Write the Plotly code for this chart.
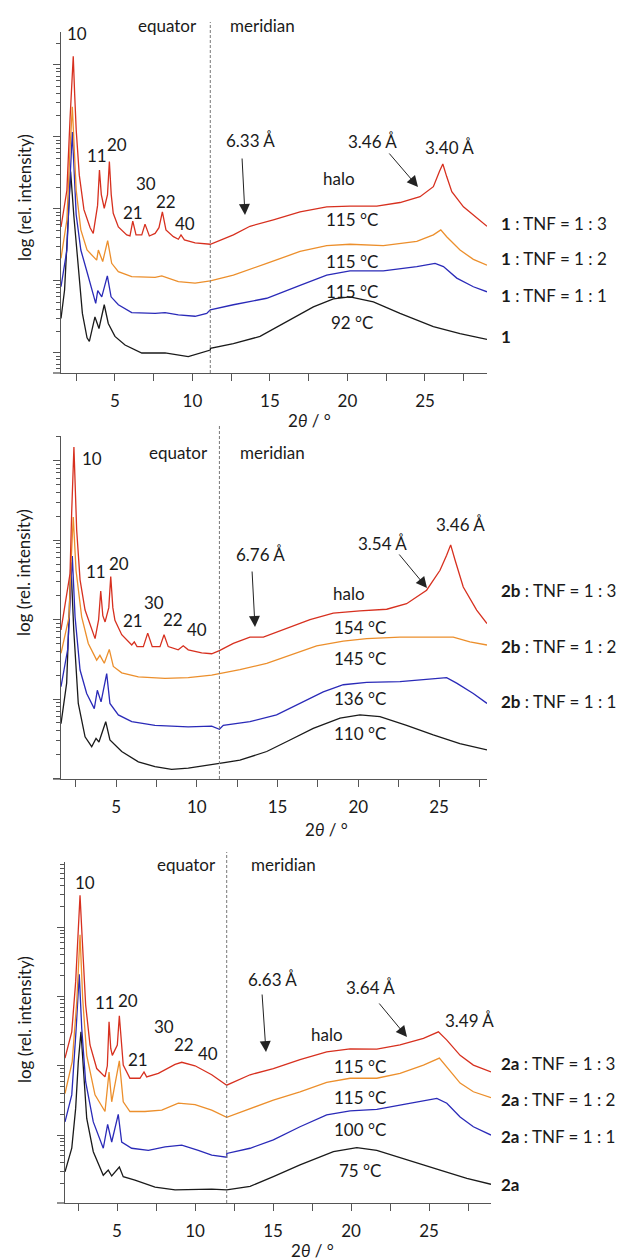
import numpy as np
import plotly.graph_objects as go

W, H = 632, 1260
FONT = "Lato, Carlito, Calibri, sans-serif"
TXT = "#1a1a1a"
COLORS = {"red": "#d7301f", "orange": "#ec8f2c", "blue": "#2a2ab8", "black": "#1a1a1a"}

# ---------------- Panel 1 (compound 1) : 2theta and log10(intensity) ----------------
p1_red_x = [1.52, 1.9, 2.1, 2.2, 2.31, 2.4, 2.5, 2.7, 3.0, 3.4, 3.6, 3.88, 4.0, 4.12, 4.31, 4.52, 4.64, 4.76,
            4.89, 5.22, 5.76, 5.97, 6.15, 6.36, 6.73, 6.94, 7.22, 7.59, 7.84, 8.06, 8.29, 8.77, 9.09, 9.26,
            9.48, 10.17, 11.15, 12.64, 13.71, 15.22, 16.94, 18.66, 20.16, 21.89, 23.39, 24.68, 25.54, 25.93,
            26.15, 26.40, 26.73, 27.48, 28.34, 29.0]
p1_red_y = [2.75, 3.26, 4.24, 4.70, 5.12, 4.60, 4.10, 3.47, 2.99, 2.74, 2.66, 3.05, 3.54, 3.20, 3.01, 3.20, 3.66, 3.20,
            2.94, 2.75, 2.64, 2.625, 2.83, 2.64, 2.64, 2.79, 2.625, 2.66, 2.74, 2.96, 2.71, 2.615, 2.58, 2.64,
            2.57, 2.53, 2.51, 2.64, 2.76, 2.85, 2.96, 3.03, 3.04, 3.04, 3.09, 3.17, 3.31, 3.52,
            3.625, 3.45, 3.24, 3.03, 2.87, 2.76]
p1_orange_x = [1.52, 1.9, 2.1, 2.25, 2.5, 2.8, 3.2, 3.82, 3.93, 4.21, 4.53, 4.79, 5.22, 6.08, 7.59, 8.02, 9.09,
               10.17, 11.15, 12.64, 14.79, 16.94, 18.66, 20.16, 22.31, 24.47, 25.54, 26.02, 26.40, 27.26, 28.12, 29.0]
p1_orange_y = [2.315, 2.85, 3.82, 4.42, 3.26, 2.71, 2.43, 2.29, 2.43, 2.27, 2.56, 2.245, 2.13, 2.06, 2.05, 2.07, 1.99,
               1.97, 2.00, 2.08, 2.245, 2.41, 2.49, 2.51, 2.49, 2.55, 2.64, 2.71, 2.615, 2.43, 2.30, 2.22]
p1_blue_x = [1.52, 1.9, 2.1, 2.25, 2.5, 2.8, 3.2, 3.76, 3.89, 4.15, 4.51, 4.75, 5.22, 6.08, 7.59, 8.23, 9.09, 10.17,
             10.92, 11.15, 12.64, 14.79, 16.94, 18.66, 20.16, 22.31, 24.47, 25.65, 26.19, 27.05, 28.12, 29.0]
p1_blue_y = [1.92, 2.43, 3.40, 4.07, 2.92, 2.43, 2.125, 1.69, 1.865, 1.78, 2.07, 1.78, 1.67, 1.56, 1.55, 1.56, 1.53, 1.51,
             1.55, 1.60, 1.67, 1.76, 1.94, 2.08, 2.14, 2.14, 2.20, 2.245, 2.20, 2.04, 1.92, 1.85]
p1_black_x = [1.52, 1.75, 1.95, 2.14, 2.35, 2.57, 2.9, 3.2, 3.35, 3.71, 3.97, 4.31, 4.57, 5.0, 5.65, 6.73, 8.23, 9.73,
              10.6, 11.15, 11.16, 12.64, 14.36, 16.08, 17.8, 19.09, 20.16, 21.67, 23.39, 25.54, 27.26, 29.0]
p1_black_y = [1.48, 1.875, 2.71, 3.52, 2.90, 2.39, 1.55, 1.21, 1.16, 1.50, 1.34, 1.67, 1.41, 1.23, 1.11, 1.00, 1.00, 0.95,
              1.00, 1.04, 1.065, 1.13, 1.23, 1.435, 1.64, 1.75, 1.78, 1.71, 1.55, 1.365, 1.27, 1.19]

# ---------------- Panel 2 (compound 2b) ----------------
p2_red_x = [1.59, 2.15, 2.25, 2.39, 2.56, 2.77, 3.08, 3.70, 3.92, 4.05, 4.18, 4.32, 4.55, 4.67, 4.80, 4.93, 5.35, 5.97,
            6.13, 6.30, 6.69, 6.96, 7.24, 7.72, 7.97, 8.23, 8.85, 9.16, 9.47, 10.30, 10.92, 11.4, 12.26, 13.29,
            14.12, 15.57, 17.01, 18.45, 20.1, 21.76, 22.99, 24.23, 25.06, 25.47, 25.72, 25.99, 26.50, 27.33, 27.97]
p2_red_y = [1.87, 2.58, 3.34, 4.17, 3.13, 2.50, 2.12, 1.76, 2.00, 2.36, 2.05, 1.97, 2.15, 2.54, 2.15, 1.99, 1.81, 1.68,
            1.72, 1.66, 1.66, 1.83, 1.66, 1.66, 1.81, 1.66, 1.62, 1.67, 1.62, 1.58, 1.57, 1.61, 1.70, 1.78,
            1.78, 1.89, 2.00, 2.08, 2.11, 2.13, 2.20, 2.37, 2.62, 2.81, 2.94, 2.75, 2.41, 2.12, 1.95]
p2_orange_x = [1.59, 2.09, 2.21, 2.35, 2.52, 2.87, 3.28, 3.80, 4.0, 4.27, 4.58, 4.83, 5.35, 6.38, 8.03, 9.47, 10.92,
               11.4, 12.67, 14.33, 15.77, 17.42, 19.07, 20.52, 22.58, 24.64, 25.88, 26.91, 27.97]
p2_orange_y = [1.575, 2.035, 2.71, 3.29, 2.62, 2.035, 1.70, 1.49, 1.55, 1.45, 1.625, 1.41, 1.33, 1.28, 1.26, 1.27, 1.30,
               1.32, 1.37, 1.45, 1.55, 1.67, 1.73, 1.76, 1.78, 1.78, 1.78, 1.72, 1.68]
p2_blue_x = [1.59, 2.0, 2.15, 2.29, 2.46, 2.77, 3.18, 3.65, 3.84, 4.07, 4.42, 4.62, 5.14, 5.97, 7.41, 9.47, 10.92,
             11.4, 11.64, 13.29, 14.94, 16.39, 17.83, 19.07, 20.52, 22.58, 24.44, 25.47, 26.09, 27.12, 27.97]
p2_blue_y = [1.155, 1.62, 2.20, 2.80, 2.035, 1.365, 1.07, 0.88, 1.11, 0.965, 1.32, 0.945, 0.80, 0.715, 0.67, 0.65, 0.66,
             0.62, 0.67, 0.715, 0.80, 0.945, 1.09, 1.18, 1.21, 1.22, 1.25, 1.27, 1.20, 1.07, 0.945]
p2_black_x = [1.59, 1.94, 2.09, 2.2, 2.38, 2.66, 3.08, 3.49, 3.76, 3.94, 4.36, 4.62, 5.35, 6.38, 7.41, 8.44, 9.47,
              10.92, 11.4, 12.67, 14.33, 15.77, 17.21, 18.87, 20.1, 21.34, 22.99, 24.64, 26.29, 27.97]
p2_black_y = [0.69, 1.20, 2.035, 2.72, 1.87, 0.945, 0.525, 0.40, 0.505, 0.46, 0.715, 0.485, 0.34, 0.21, 0.15, 0.115, 0.13,
              0.18, 0.19, 0.23, 0.34, 0.485, 0.63, 0.76, 0.80, 0.78, 0.67, 0.55, 0.44, 0.36]

# ---------------- Panel 3 (compound 2a) ----------------
p3_red_x = [1.667, 2.10, 2.35, 2.52, 2.63, 2.78, 2.99, 3.27, 3.70, 4.23, 4.38, 4.49, 4.60, 4.70, 5.02, 5.15, 5.28,
            5.40, 5.83, 6.47, 6.73, 6.9, 7.65, 8.72, 9.15, 10.0, 11.07, 12.03, 13.53, 15.02, 16.73, 18.44, 19.94,
            21.65, 23.14, 24.64, 25.6, 26.14, 26.99, 27.84, 28.97]
p3_red_y = [2.11, 2.49, 3.21, 4.08, 4.46, 3.79, 2.88, 2.30, 1.96, 1.84, 2.00, 2.635, 2.25, 2.15, 2.30, 2.72, 2.30,
            2.01, 1.82, 1.82, 1.91, 1.84, 1.89, 2.02, 2.05, 2.00, 1.87, 1.72, 1.87, 1.96, 2.09, 2.20, 2.245,
            2.24, 2.30, 2.395, 2.49, 2.37, 2.15, 2.01, 1.91]
p3_orange_x = [1.667, 2.13, 2.42, 2.63, 2.80, 3.06, 3.59, 4.23, 4.49, 4.66, 5.15, 5.40, 5.83, 6.79, 7.87, 8.93, 10.0,
               11.07, 12.03, 13.53, 15.02, 16.73, 18.44, 19.94, 21.65, 23.14, 24.64, 25.66, 26.14, 26.99, 27.84, 28.97]
p3_orange_y = [1.60, 2.06, 2.92, 3.89, 2.97, 2.15, 1.58, 1.34, 1.91, 1.48, 2.07, 1.48, 1.34, 1.34, 1.36, 1.46, 1.44,
               1.36, 1.255, 1.385, 1.505, 1.625, 1.76, 1.82, 1.82, 1.89, 2.01, 2.11, 1.985, 1.75, 1.625, 1.54]
p3_blue_x = [1.667, 2.10, 2.37, 2.58, 2.74, 2.99, 3.48, 4.12, 4.40, 4.66, 5.08, 5.30, 5.94, 7.01, 8.08, 9.15, 10.21,
             11.07, 12.03, 12.04, 13.53, 15.02, 16.73, 18.44, 19.94, 21.65, 23.57, 25.5, 26.14, 26.99, 27.84, 28.97]
p3_blue_y = [1.19, 1.58, 2.49, 3.32, 2.54, 1.77, 1.19, 0.81, 1.155, 0.90, 1.30, 0.90, 0.81, 0.78, 0.83, 0.855, 0.78,
             0.71, 0.68, 0.735, 0.81, 0.93, 1.12, 1.29, 1.35, 1.37, 1.45, 1.53, 1.46, 1.26, 1.12, 1.00]
p3_black_x = [1.667, 2.10, 2.35, 2.52, 2.69, 2.84, 3.06, 3.48, 4.12, 4.44, 4.66, 5.15, 5.40, 6.15, 7.44, 8.72, 10.0,
              11.07, 12.03, 13.53, 15.02, 16.73, 18.87, 20.37, 21.65, 23.57, 25.71, 27.42, 28.97]
p3_black_y = [0.47, 0.81, 1.385, 2.06, 2.49, 1.91, 1.24, 0.76, 0.42, 0.495, 0.41, 0.54, 0.40, 0.35, 0.25, 0.21, 0.22,
              0.22, 0.21, 0.26, 0.40, 0.57, 0.76, 0.82, 0.78, 0.64, 0.495, 0.375, 0.29]

panels = [
    {"curves": [("black", p1_black_x, p1_black_y), ("blue", p1_blue_x, p1_blue_y),
                ("orange", p1_orange_x, p1_orange_y), ("red", p1_red_x, p1_red_y)]},
    {"curves": [("black", p2_black_x, p2_black_y), ("blue", p2_blue_x, p2_blue_y),
                ("orange", p2_orange_x, p2_orange_y), ("red", p2_red_x, p2_red_y)]},
    {"curves": [("black", p3_black_x, p3_black_y), ("blue", p3_blue_x, p3_blue_y),
                ("orange", p3_orange_x, p3_orange_y), ("red", p3_red_x, p3_red_y)]},
]

x_ranges = [[1.52, 29.0], [1.59, 27.97], [1.667, 28.97]]
y_ranges = [[0.722, 5.458], [-0.006, 4.31], [0.02, 4.94]]
divider_x = [11.15, 11.4, 12.03]

# pixel layout of the three plot areas (left, right, top, bottom)
boxes = [(61, 487, 32, 373), (61, 487, 436, 779), (65, 491, 862, 1203)]


def fx(px):
    return px / W


def fy(py):
    return 1 - py / H


fig = go.Figure()
for i, p in enumerate(panels):
    sfx = "" if i == 0 else str(i + 1)
    for col, xs, ys in p["curves"]:
        fig.add_trace(go.Scatter(x=xs, y=10 ** np.array(ys), mode="lines",
                                 line=dict(color=COLORS[col], width=1.3),
                                 xaxis="x" + sfx, yaxis="y" + sfx, showlegend=False,
                                 hoverinfo="skip"))

axis_col = "#555555"
for i in range(3):
    sfx = "" if i == 0 else str(i + 1)
    l, r, t, b = boxes[i]
    fig.layout["xaxis" + sfx] = dict(
        domain=[fx(l), fx(r)], range=x_ranges[i], anchor="y" + sfx,
        showgrid=False, zeroline=False, showline=True, linecolor=axis_col, linewidth=1.3,
        ticks="outside", ticklen=7, tickcolor=axis_col, tickwidth=1.2, dtick=5, tick0=0,
        minor=dict(dtick=2.5, tick0=0, ticks="outside", ticklen=7, tickcolor=axis_col, tickwidth=1.2, showgrid=False),
        tickfont=dict(family=FONT, size=17, color=TXT), ticklabelstandoff=5)
    fig.layout["yaxis" + sfx] = dict(
        domain=[fy(b), fy(t)], range=y_ranges[i], type="log", anchor="x" + sfx,
        showgrid=False, zeroline=False, showline=True, linecolor=axis_col, linewidth=1.3,
        ticks="outside", ticklen=7, tickcolor=axis_col, tickwidth=1.2, dtick=1, showticklabels=False,
        minor=dict(dtick="D1", ticks="outside", ticklen=4, tickcolor=axis_col, tickwidth=1, showgrid=False))
    # equator / meridian divider
    fig.add_shape(type="line", xref="x" + sfx, yref="paper", x0=divider_x[i], x1=divider_x[i],
                  y0=fy(b), y1=fy(t - 10), line=dict(color="#777777", width=1, dash="3px,2px"))
    # little extension of the x axis line to the left
    fig.add_shape(type="line", xref="paper", yref="paper", x0=fx(l - 8), x1=fx(l), y0=fy(b), y1=fy(b),
                  line=dict(color=axis_col, width=1.3))

ann = []


def text(px, py, s, size=17, anchor="center", angle=0):
    ann.append(dict(x=fx(px), y=fy(py), xref="paper", yref="paper", text=s, showarrow=False,
                    xanchor=anchor, yanchor="middle", textangle=angle,
                    font=dict(family=FONT, size=size, color=TXT)))


def arrow(x0, y0, x1, y1):
    ann.append(dict(x=fx(x1), y=fy(y1), xref="paper", yref="paper", ax=x0 - x1, ay=y0 - y1,
                    axref="pixel", ayref="pixel", text="", showarrow=True, arrowhead=2,
                    arrowsize=2.2, arrowwidth=1, arrowcolor="#222222"))


# Panel 1 texts
p1_peaks = [("10", 77, 33), ("11", 97, 155), ("20", 117, 144), ("21", 133, 212), ("30", 146, 183),
            ("22", 166, 202), ("40", 184.5, 223)]
for s, x, y in p1_peaks:
    text(x, y, s)
text(168, 25, "equator")
text(262, 25, "meridian")
text(250, 140, "6.33 Å")
arrow(242, 157, 245, 215)
text(372, 141, "3.46 Å")
arrow(388, 152, 418, 187)
text(449, 147, "3.40 Å")
text(339, 179, "halo")
p1_temps = [("115 °C", 219), ("115 °C", 261), ("115 °C", 291), ("92 °C", 322)]
for s, y in p1_temps:
    text(352, y, s)
p1_labels = [("<b>1</b> : TNF = 1 : 3", 223), ("<b>1</b> : TNF = 1 : 2", 259),
             ("<b>1</b> : TNF = 1 : 1", 295), ("<b>1</b>", 337)]
for s, y in p1_labels:
    text(499, y, s, anchor="left")
text(309, 421, "2<i>θ</i> / °")
text(24, 198, "log (rel. intensity)", angle=-90)

# Panel 2 texts
p2_peaks = [("10", 92, 458), ("11", 96, 572), ("20", 119, 563), ("21", 133, 620), ("30", 154, 602),
            ("22", 173, 619), ("40", 197, 629)]
for s, x, y in p2_peaks:
    text(x, y, s)
text(178, 452, "equator")
text(272, 452, "meridian")
text(260, 554, "6.76 Å")
arrow(252, 570, 255, 627)
text(460, 524, "3.46 Å")
text(382, 543, "3.54 Å")
arrow(398, 553, 427, 588)
text(349, 593, "halo")
p2_temps = [("154 °C", 627), ("145 °C", 658), ("136 °C", 698), ("110 °C", 733)]
for s, y in p2_temps:
    text(360, y, s)
p2_labels = [("<b>2b</b> : TNF = 1 : 3", 590), ("<b>2b</b> : TNF = 1 : 2", 647), ("<b>2b</b> : TNF = 1 : 1", 701)]
for s, y in p2_labels:
    text(499, y, s, anchor="left")
text(326, 829, "2<i>θ</i> / °")
text(24, 573, "log (rel. intensity)", angle=-90)

# Panel 3 texts
p3_peaks = [("10", 85, 883), ("11", 105, 1003), ("20", 128, 1000), ("21", 138, 1059), ("30", 164, 1026),
            ("22", 184, 1044), ("40", 208, 1053)]
for s, x, y in p3_peaks:
    text(x, y, s)
text(186, 864, "equator")
text(283, 864, "meridian")
text(272, 979, "6.63 Å")
arrow(262, 993, 266, 1052)
text(370, 987, "3.64 Å")
arrow(378, 1002, 407, 1037)
text(469, 1020, "3.49 Å")
text(327, 1034, "halo")
p3_temps = [("115 °C", 1066), ("115 °C", 1097), ("100 °C", 1129), ("75 °C", 1170)]
for s, y in p3_temps:
    text(360, y, s)
p3_labels = [("<b>2a</b> : TNF = 1 : 3", 1063), ("<b>2a</b> : TNF = 1 : 2", 1099),
             ("<b>2a</b> : TNF = 1 : 1", 1136), ("<b>2a</b>", 1184)]
for s, y in p3_labels:
    text(499, y, s, anchor="left")
text(312, 1250, "2<i>θ</i> / °")
text(24, 1020, "log (rel. intensity)", angle=-90)

fig.update_layout(width=W, height=H, margin=dict(l=0, r=0, t=0, b=0),
                  paper_bgcolor="white", plot_bgcolor="white", annotations=ann,
                  font=dict(family=FONT, color=TXT))
fig.write_html("out.html")
